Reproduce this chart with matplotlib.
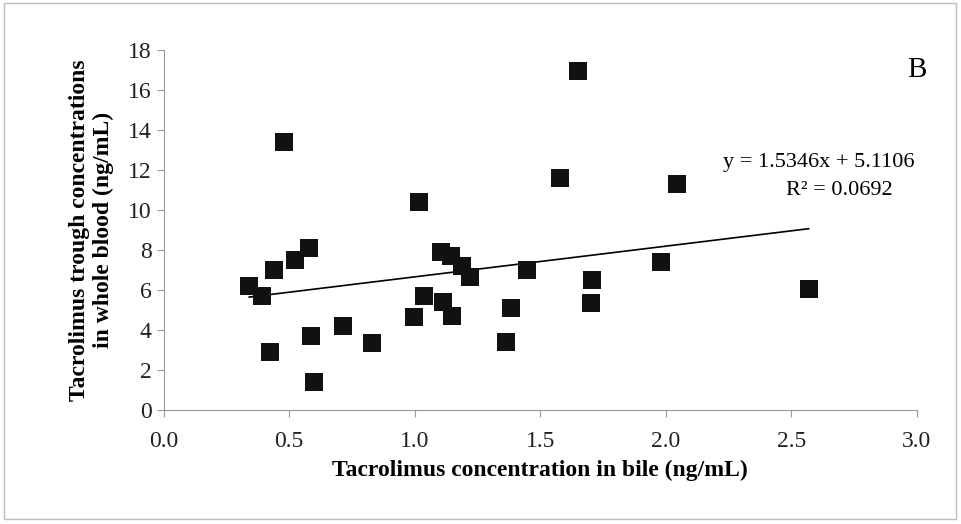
import matplotlib
matplotlib.use("Agg")
import matplotlib.pyplot as plt
import numpy as np

bile = [0.341,0.392,0.44,0.423,0.478,0.524,0.58,0.589,0.601,0.714,0.832,0.997,1.018,1.037,1.106,
        1.112,1.146,1.148,1.19,1.219,1.364,1.385,1.446,1.58,1.651,1.701,1.707,1.982,2.045,2.569]
blood = [6.17,5.67,6.97,2.87,13.4,7.47,8.08,3.67,1.37,4.17,3.33,4.63,10.4,5.67,7.87,
         5.37,7.67,4.67,7.2,6.63,3.37,5.07,6.97,11.57,16.92,5.33,6.47,7.37,11.27,6.03]
slope, intercept = 1.5346, 5.1106

plt.rcParams['font.family'] = ['Liberation Serif', 'DejaVu Serif']
fig = plt.figure(figsize=(9.62, 5.24), dpi=100)
ax = fig.add_axes([0.170, 0.218, 0.783, 0.687])
ax.scatter(bile, blood, marker='s', s=160, color='#111111', zorder=3, linewidths=0)
xs = np.array([min(bile), max(bile)])
ax.plot(xs, slope*xs + intercept, color='black', lw=1.2)
ax.set_xlim(0, 3.0); ax.set_ylim(0, 18)
ax.set_xticks(np.arange(0, 3.01, 0.5))
ax.set_xticklabels([f"{v:.1f}" for v in np.arange(0, 3.01, 0.5)])
ax.set_yticks(range(0, 19, 2))
for s in ['top', 'right']:
    ax.spines[s].set_visible(False)
for s in ['left', 'bottom']:
    ax.spines[s].set_color('#999999')
ax.tick_params(colors='#999999', labelcolor='#222222', labelsize=17, length=5, direction='out')
ax.tick_params(axis='x', pad=10)
ax.set_xlabel('Tacrolimus concentration in bile (ng/mL)', fontsize=17, fontweight='bold', labelpad=6)
ax.set_ylabel('Tacrolimus trough concentrations\nin whole blood (ng/mL)', fontsize=17, fontweight='bold', labelpad=10)
ax.text(2.61, 12.35, 'y = 1.5346x + 5.1106', fontsize=16, ha='center', va='center')
ax.text(2.69, 10.95, 'R² = 0.0692', fontsize=16, ha='center', va='center')
ax.text(3.0, 17.0, 'B', fontsize=21, ha='center', va='center')
fig.patches.append(plt.Rectangle((0.004, 0.01), 0.99, 0.985, transform=fig.transFigure,
                                 fill=False, edgecolor='#bbbbbb', lw=1))
fig.savefig('out.png', dpi=100)
